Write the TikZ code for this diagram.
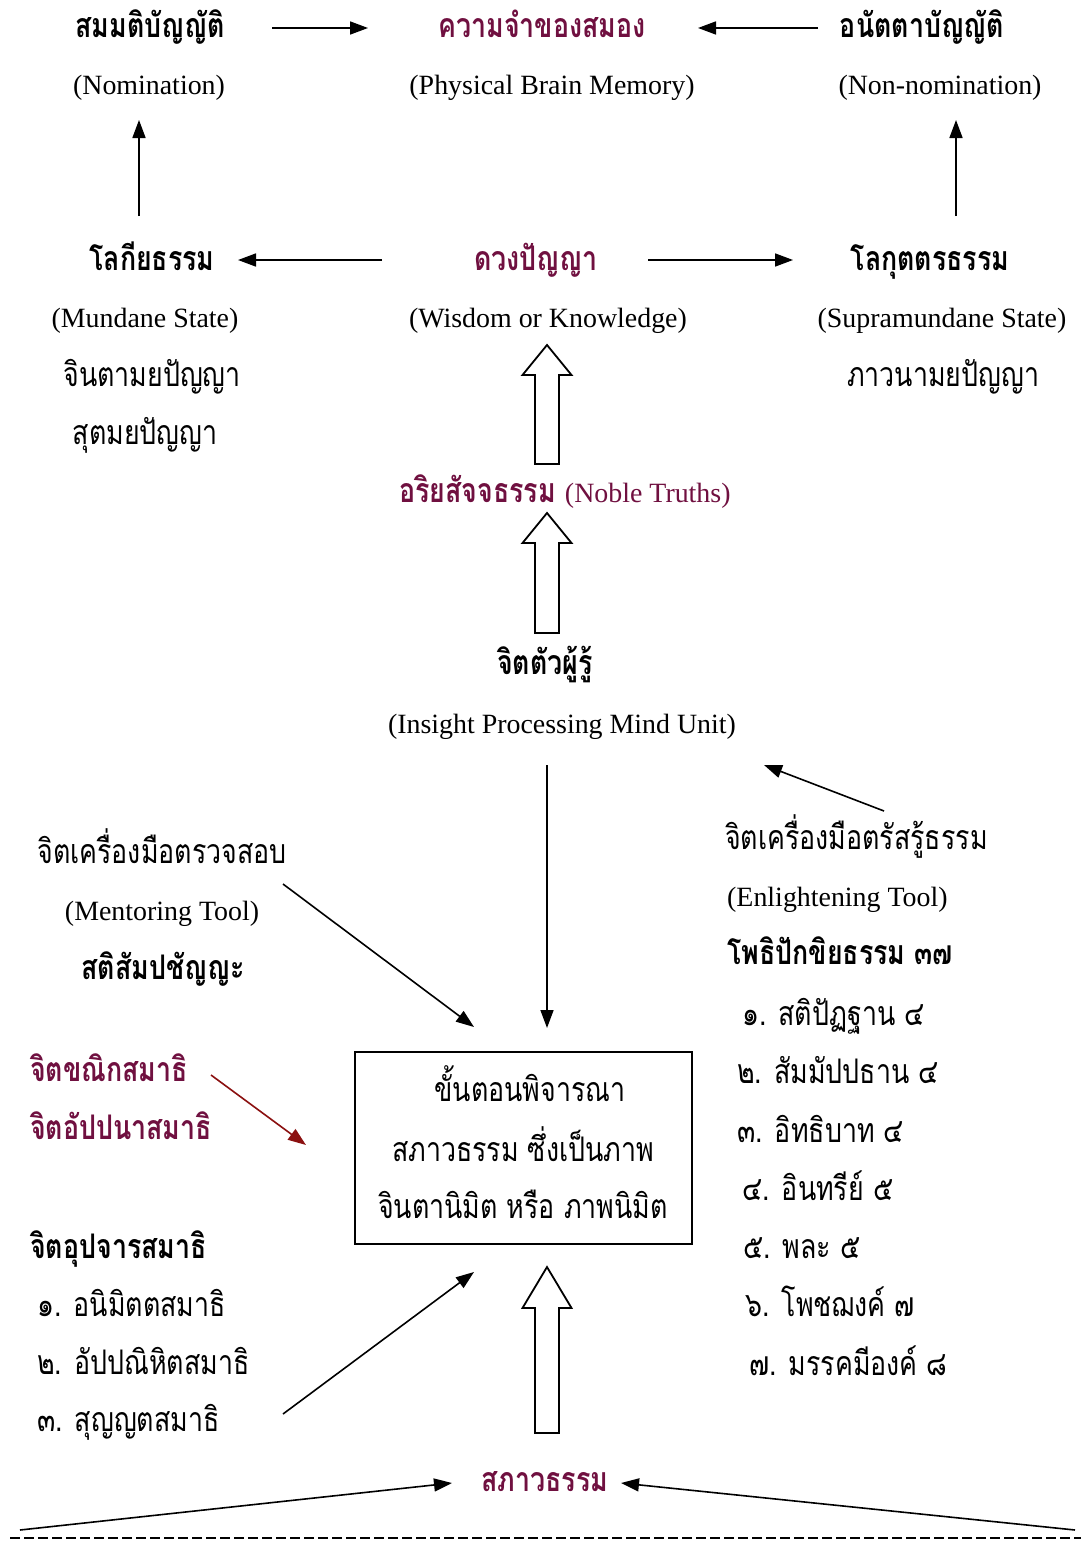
\documentclass[tikz,border=0pt]{standalone}
\usepackage{fontspec}
\setmainfont{Liberation Serif}
\newfontfamily\thaifont[Script=Thai,FakeStretch=0.79]{Loma}
\usetikzlibrary{arrows.meta}
\definecolor{dhamma}{HTML}{701040}
\definecolor{arrowred}{HTML}{8B1010}

% block arrow: centre x, shaft bottom y, head base y, tip y
\newcommand{\blockarrow}[4]{%
  \draw[blk] (#1-12,#2) -- (#1-12,#3) -- (#1-24.5,#3) -- (#1,#4)
    -- (#1+24.5,#3) -- (#1+12,#3) -- (#1+12,#2) -- cycle;}

\begin{document}
\begin{tikzpicture}[x=1bp,y=-1bp,
  en/.style={font=\fontsize{28}{30}\selectfont, inner sep=0pt, anchor=base},
  th/.style={font=\thaifont\fontsize{34}{36}\selectfont, inner sep=0pt, anchor=base},
  thb/.style={font=\thaifont\bfseries\fontsize{34}{36}\selectfont, inner sep=0pt, anchor=base},
  hl/.style={text=dhamma},
  conn/.style={line width=1.6bp, -{Triangle[length=18bp,width=13bp]}},
  blk/.style={line width=1.8bp, fill=white, line join=miter},
  box/.style={draw, line width=1.6bp},
]
\useasboundingbox[fill=white] (0,0) rectangle (1081,1546);

% ---- top row
\node[thb] (samm) at (150,38) {สมมติบัญญัติ};
\node[en]  (samm-en) at (149,95) {(Nomination)};
\node[thb,hl] (mem) at (542,38) {ความจำของสมอง};
\node[en]  (mem-en) at (552,95) {(Physical Brain Memory)};
\node[thb] (anat) at (922,38) {อนัตตาบัญญัติ};
\node[en]  (anat-en) at (940,95) {(Non-nomination)};

\coordinate (a1s) at (272,28); \coordinate (a1e) at (368,28);
\coordinate (a2s) at (818,28); \coordinate (a2e) at (698,28);
\draw[conn] (a1s) -- (a1e);
\draw[conn] (a2s) -- (a2e);

% ---- second row
\node[thb] (lok) at (152,270) {โลกียธรรม};
\node[en]  (lok-en) at (145,327) {(Mundane State)};
\node[th]  (lok-1) at (152,386) {จินตามยปัญญา};
\node[th]  (lok-2) at (145,444) {สุตมยปัญญา};
\node[thb,hl] (wis) at (536,270) {ดวงปัญญา};
\node[en]  (wis-en) at (548,327) {(Wisdom or Knowledge)};
\node[thb] (lokut) at (930,270) {โลกุตตรธรรม};
\node[en]  (lokut-en) at (942,327) {(Supramundane State)};
\node[th]  (lokut-1) at (943,386) {ภาวนามยปัญญา};

\coordinate (b1s) at (382,260); \coordinate (b1e) at (238,260);
\coordinate (b2s) at (648,260); \coordinate (b2e) at (793,260);
\draw[conn] (b1s) -- (b1e);
\draw[conn] (b2s) -- (b2e);
\coordinate (v1s) at (139,216); \coordinate (v1e) at (139,120);
\coordinate (v2s) at (956,216); \coordinate (v2e) at (956,120);
\draw[conn] (v1s) -- (v1e);
\draw[conn] (v2s) -- (v2e);

% ---- centre column
\blockarrow{547}{464}{375}{345}
\node[anchor=base, inner sep=0pt] (noble) at (565,502)
  {\thaifont\bfseries\fontsize{34}{36}\selectfont\color{dhamma}อริยสัจจธรรม
   \fontsize{28}{30}\rmfamily\mdseries\selectfont\color{dhamma}(Noble Truths)};
\blockarrow{547}{633}{543}{513}
\node[thb] (mind) at (545,674) {จิตตัวผู้รู้};
\node[en]  (mind-en) at (562,733) {(Insight Processing Mind Unit)};

% ---- process box
\node[box, minimum width=337bp, minimum height=192bp] (proc) at (523.5,1148) {};
\node[th] (proc-1) at (530,1101) {ขั้นตอนพิจารณา};
\node[th] (proc-2) at (523,1161) {สภาวธรรม ซึ่งเป็นภาพ};
\node[th] (proc-3) at (523,1218) {จินตานิมิต หรือ ภาพนิมิต};

\coordinate (c1s) at (547,765); \coordinate (c1e) at (547,1028);
\draw[conn] (c1s) -- (c1e);

% ---- right column
\coordinate (d1s) at (884,811); \coordinate (d1e) at (764,765);
\draw[conn] (d1s) -- (d1e);
\node[th, anchor=base west] (enl) at (725,849) {จิตเครื่องมือตรัสรู้ธรรม};
\node[en, anchor=base west] (enl-en) at (727,906) {(Enlightening Tool)};
\node[thb, anchor=base west] (bodhi) at (727,964) {โพธิปักขิยธรรม ๓๗};
\node[th, anchor=base west] (r1) at (742,1025) {๑. สติปัฏฐาน ๔};
\node[th, anchor=base west] (r2) at (737,1083) {๒. สัมมัปปธาน ๔};
\node[th, anchor=base west] (r3) at (737,1142) {๓. อิทธิบาท ๔};
\node[th, anchor=base west] (r4) at (742,1200) {๔. อินทรีย์ ๕};
\node[th, anchor=base west] (r5) at (743,1258) {๕. พละ ๕};
\node[th, anchor=base west] (r6) at (745,1316) {๖. โพชฌงค์ ๗};
\node[th, anchor=base west] (r7) at (749,1375) {๗. มรรคมีองค์ ๘};

% ---- left column
\node[th] (ment) at (162,863) {จิตเครื่องมือตรวจสอบ};
\node[en] (ment-en) at (162,920) {(Mentoring Tool)};
\node[thb] (sati) at (163,979) {สติสัมปชัญญะ};
\coordinate (e1s) at (283,884); \coordinate (e1e) at (474,1027);
\draw[conn] (e1s) -- (e1e);

\node[thb,hl, anchor=base west] (khan) at (30,1081) {จิตขณิกสมาธิ};
\node[thb,hl, anchor=base west] (appa) at (30,1139) {จิตอัปปนาสมาธิ};
\coordinate (f1s) at (211,1075); \coordinate (f1e) at (306,1145);
\draw[conn, draw=arrowred, fill=arrowred] (f1s) -- (f1e);

\node[thb, anchor=base west] (upa) at (30,1258) {จิตอุปจารสมาธิ};
\node[th, anchor=base west] (l1) at (37,1316) {๑. อนิมิตตสมาธิ};
\node[th, anchor=base west] (l2) at (37,1374) {๒. อัปปณิหิตสมาธิ};
\node[th, anchor=base west] (l3) at (37,1431) {๓. สุญญตสมาธิ};
\coordinate (g1s) at (283,1414); \coordinate (g1e) at (474,1272);
\draw[conn] (g1s) -- (g1e);

% ---- bottom
\blockarrow{547}{1433}{1308}{1267}
\node[thb,hl] (sabh) at (545,1491) {สภาวธรรม};
\coordinate (h1s) at (20,1530); \coordinate (h1e) at (452,1483);
\coordinate (h2s) at (1075,1530); \coordinate (h2e) at (621,1483);
\draw[conn] (h1s) -- (h1e);
\draw[conn] (h2s) -- (h2e);
\coordinate (dl) at (10,1538); \coordinate (dr) at (1081,1538);
\draw[line width=1.8bp, dash pattern=on 10bp off 4bp] (dl) -- (dr);
\end{tikzpicture}
\end{document}
